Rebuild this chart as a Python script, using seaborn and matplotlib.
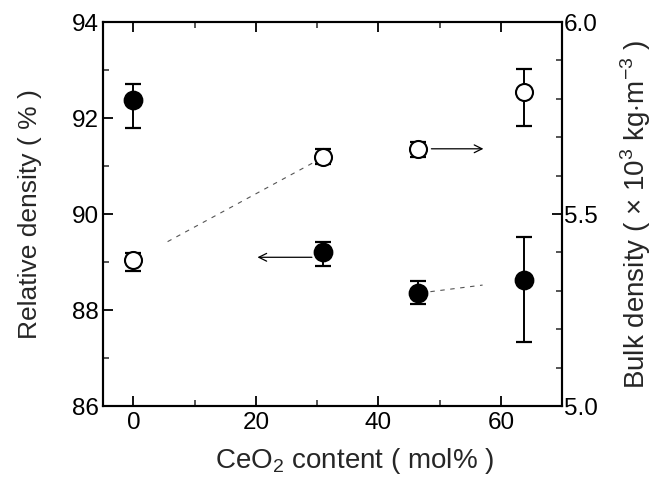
import numpy as np
import pandas as pd
import matplotlib
matplotlib.use("Agg")
import matplotlib.pyplot as plt
from matplotlib.ticker import MultipleLocator
import seaborn as sns

# CeO2 content (mol%)
ceo2 = [0.0, 31.0, 46.4, 63.8]

# Relative density (%) with lower / upper error limits
rel_density = [92.38, 89.21, 88.35, 88.63]
rel_err_low = [0.58, 0.29, 0.23, 1.30]
rel_err_high = [0.32, 0.21, 0.25, 0.89]

# Bulk density (x10^3 kg/m^3) with lower / upper error limits
bulk_density = [5.380, 5.648, 5.669, 5.818]
bulk_err_low = [0.028, 0.018, 0.021, 0.089]
bulk_err_high = [0.018, 0.022, 0.018, 0.060]

sns.set_style("ticks")
plt.rcParams["font.family"] = ["Liberation Sans", "DejaVu Sans"]
plt.rcParams["mathtext.fontset"] = "custom"
plt.rcParams["mathtext.rm"] = "Liberation Sans"

fig, ax = plt.subplots(figsize=(6.59, 4.8), dpi=100)
fig.subplots_adjust(left=0.156, right=0.853, top=0.954, bottom=0.154)
ax2 = ax.twinx()

rel_df = pd.DataFrame({"x": ceo2, "y": rel_density})
bulk_df = pd.DataFrame({"x": ceo2, "y": bulk_density})

# error bars
ax.errorbar(ceo2, rel_density, yerr=[rel_err_low, rel_err_high], fmt="none",
            ecolor="black", elinewidth=1.4, capsize=5.5, capthick=1.6, zorder=3)
ax2.errorbar(ceo2, bulk_density, yerr=[bulk_err_low, bulk_err_high], fmt="none",
             ecolor="black", elinewidth=1.4, capsize=5.5, capthick=1.6, zorder=3)

# markers
sns.scatterplot(data=rel_df, x="x", y="y", ax=ax, s=170, color="black",
                edgecolor="black", linewidth=1.2, zorder=4, legend=False)
sns.scatterplot(data=bulk_df, x="x", y="y", ax=ax2, s=150, facecolor="white",
                edgecolor="black", linewidth=1.5, zorder=4, legend=False)


def faint_segment(axis, xs, ys, i, t0, t1):
    """Dashed guide drawn along part of the segment between points i and i+1."""
    x0, x1 = xs[i], xs[i + 1]
    y0, y1 = ys[i], ys[i + 1]
    xa, xb = x0 + t0 * (x1 - x0), x0 + t1 * (x1 - x0)
    ya, yb = y0 + t0 * (y1 - y0), y0 + t1 * (y1 - y0)
    axis.plot([xa, xb], [ya, yb], color="#555555", lw=0.8,
              ls=(0, (4, 5)), zorder=2)


faint_segment(ax2, ceo2, bulk_density, 0, 0.18, 1.0)
faint_segment(ax, ceo2, rel_density, 2, 0.12, 0.61)

# arrows pointing to the corresponding axes
ax.annotate("", xy=(19.8, 89.1), xytext=(29.6, 89.1),
            arrowprops=dict(arrowstyle="->", color="black", lw=0.9,
                            mutation_scale=14))
ax2.annotate("", xy=(57.6, 5.67), xytext=(48.2, 5.67),
             arrowprops=dict(arrowstyle="->", color="black", lw=0.9,
                             mutation_scale=14))

# axes limits and ticks
ax.set_xlim(-5, 70)
ax.set_ylim(86, 94)
ax2.set_ylim(5.0, 6.0)

ax.xaxis.set_major_locator(MultipleLocator(20))
ax.xaxis.set_minor_locator(MultipleLocator(10))
ax.yaxis.set_major_locator(MultipleLocator(2))
ax.yaxis.set_minor_locator(MultipleLocator(1))
ax2.yaxis.set_major_locator(MultipleLocator(0.5))
ax2.yaxis.set_minor_locator(MultipleLocator(0.1))
ax2.set_yticklabels([f"{v:.1f}" for v in ax2.get_yticks()])

ax.tick_params(axis="x", which="both", direction="in", top=True, bottom=True)
ax.tick_params(axis="y", which="both", direction="in", left=True, right=False)
ax2.tick_params(axis="y", which="both", direction="in", right=True, left=False)
for a in (ax, ax2):
    a.tick_params(which="major", length=7, width=1.3, labelsize=17.5,
                  colors="black")
    a.tick_params(which="minor", length=4, width=1.1)
    for sp in a.spines.values():
        sp.set_visible(True)
        sp.set_linewidth(1.5)
        sp.set_color("black")
ax.tick_params(axis="y", which="major", pad=3)
ax.tick_params(axis="x", which="major", pad=4)
ax2.tick_params(axis="y", which="major", pad=1)

ax.set_xlabel(r"CeO$_2$ content ( mol% )", fontsize=20)
ax.set_ylabel("Relative density ( % )", fontsize=19)
ax2.set_ylabel(r"Bulk density ( $\times$ 10$^3$ kg$\cdot$m$^{-3}$ )",
               fontsize=20)
ax.xaxis.set_label_coords(0.547, -0.105, transform=ax.transAxes)
ax.yaxis.set_label_coords(-0.133, 0.5, transform=ax.transAxes)
ax2.yaxis.set_label_coords(1.122, 0.5, transform=ax2.transAxes)

fig.savefig("out.png", dpi=100)
